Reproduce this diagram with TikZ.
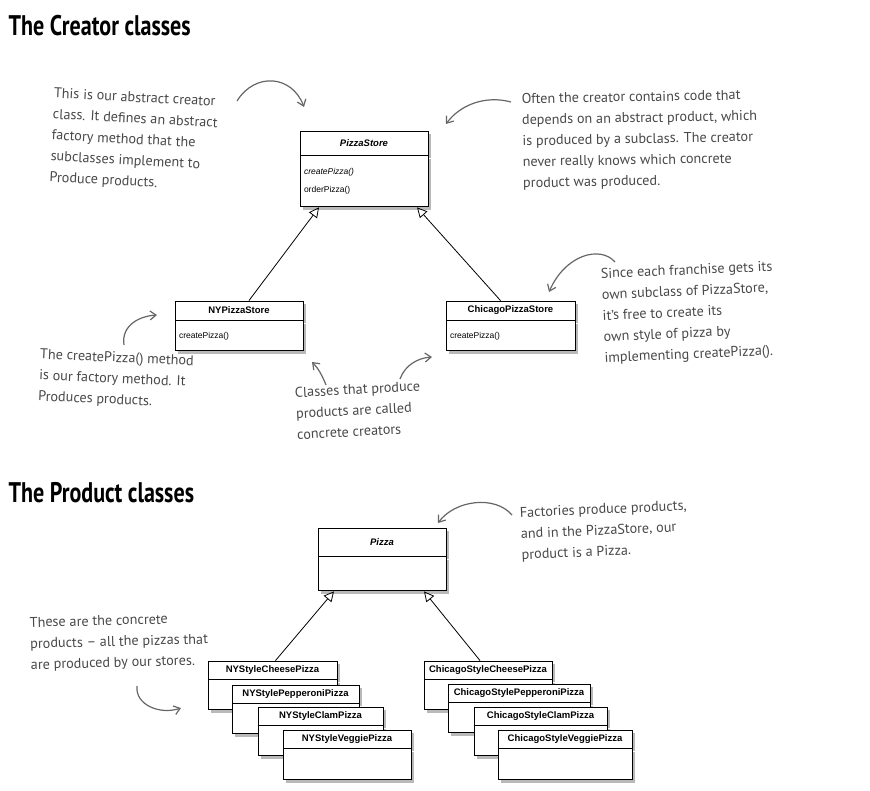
\documentclass[tikz,border=0pt]{standalone}
\usepackage{fontspec}
\setmainfont{Liberation Sans}
\newfontfamily\handfont[Ligatures=TeX]{PT Sans}
\usetikzlibrary{positioning,arrows.meta,shadows}

\definecolor{notegray}{RGB}{72,72,72}

\tikzset{
  clsshadow/.style={drop shadow={shadow xshift=3pt, shadow yshift=-3pt, opacity=0.55}},
  clshead/.style={draw, fill=white, line width=0.9pt, inner sep=0pt, clsshadow,
    font=\fontsize{9.5}{11}\selectfont\bfseries},
  clsbody/.style={draw, fill=white, line width=0.9pt, inner xsep=4pt, inner ysep=0pt,
    align=left, clsshadow, font=\fontsize{8.5}{18}\selectfont},
  annot/.style={anchor=north west, align=left, text=notegray,
    font=\handfont\fontsize{14.2}{21}\selectfont},
  heading/.style={anchor=north west, font=\handfont\bfseries\fontsize{21}{26}\selectfont},
  pointer/.style={draw=black!60, line width=1.2pt, -{Straight Barb[length=6pt,width=9pt]}},
  isa/.style={line width=0.8pt, -{Triangle[open,length=10pt,width=10pt]}}
}

\begin{document}
\begin{tikzpicture}[x=1pt,y=-1pt]
\useasboundingbox (0,0) rectangle (870,791);

% the creator classes
\node[heading] (creators) at (5,12) {\scalebox{1.05}[1.35]{The Creator classes}};

\node[clshead, minimum width=128pt, minimum height=24pt, font=\fontsize{9.5}{11}\selectfont\bfseries\itshape] (ps) at (364,143) {PizzaStore};
\node[clsbody, text width=120pt, minimum height=51pt, below=0pt of ps] (psm) {\textit{createPizza()}\\orderPizza()};

\node[clshead, minimum width=128pt, minimum height=19pt] (ny) at (239,310.5) {NYPizzaStore};
\node[clsbody, text width=120pt, minimum height=30pt, below=0pt of ny] (nym) {createPizza()};

\node[clshead, minimum width=129pt, minimum height=19pt] (chi) at (510.5,310.5) {ChicagoPizzaStore};
\node[clsbody, text width=121pt, minimum height=30pt, below=0pt of chi] (chim) {createPizza()};

\draw[isa] ([xshift=10pt]ny.north) -- ([xshift=-45pt]psm.south);
\draw[isa] ([xshift=-10pt]chi.north) -- ([xshift=53pt]psm.south);

\node[annot, rotate=-3] (n1) at (51,84) {This is our abstract creator\\class.  It defines an abstract\\factory method that the\\subclasses implement to\\Produce products.};
\node[annot, rotate=1] (n2) at (518,90) {Often the creator contains code that\\depends on an abstract product, which\\is produced by a subclass.  The creator\\never really knows which concrete\\product was produced.};
\node[annot, rotate=2.5] (n3) at (597,265) {Since each franchise gets its\\own subclass of PizzaStore,\\it's free to create its\\own style of pizza by\\implementing createPizza().};
\node[annot, rotate=-2.5] (n4) at (37,345) {The createPizza() method\\is our factory method.  It\\Produces products.};
\node[annot, rotate=3] (n5) at (291,384) {Classes that produce\\products are called\\concrete creators};

\coordinate (p1a) at (237,101);  \coordinate (p1b) at (304,107);
\coordinate (p2a) at (511,102);  \coordinate (p2b) at (446,124);
\coordinate (p3a) at (615,262);  \coordinate (p3b) at (549,292);
\coordinate (p4a) at (124,345);  \coordinate (p4b) at (157,315);
\coordinate (p5a) at (326,385);  \coordinate (p5b) at (312,362);
\coordinate (p6a) at (400,379);  \coordinate (p6b) at (432,357);
\draw[pointer] (p1a) .. controls (255,72) and (292,75) .. (p1b);
\draw[pointer] (p2a) .. controls (485,95) and (460,105) .. (p2b);
\draw[pointer] (p3a) .. controls (600,245) and (565,255) .. (p3b);
\draw[pointer] (p4a) .. controls (121,325) and (140,316) .. (p4b);
\draw[pointer] (p5a) .. controls (322,375) and (318,368) .. (p5b);
\draw[pointer] (p6a) .. controls (405,365) and (418,358) .. (p6b);

% the product classes
\node[heading] (products) at (5,479) {\scalebox{1.05}[1.35]{The Product classes}};

\node[clshead, minimum width=128pt, minimum height=28pt, font=\fontsize{9.5}{11}\selectfont\bfseries\itshape] (pz) at (382,542) {Pizza};
\node[clsbody, minimum width=128pt, minimum height=34pt, below=0pt of pz] (pzm) {};

\node[clshead, minimum width=129pt, minimum height=18pt] (nyc) at (272.5,670) {NYStyleCheesePizza};
\node[clsbody, minimum width=129pt, minimum height=30pt, below=0pt of nyc] (nycm) {};
\node[clshead, minimum width=127pt, minimum height=18pt] (nyp) at (295.5,694) {NYStylePepperoniPizza};
\node[clsbody, minimum width=127pt, minimum height=30pt, below=0pt of nyp] (nypm) {};
\node[clshead, minimum width=125pt, minimum height=18pt] (nycl) at (320.5,716) {NYStyleClamPizza};
\node[clsbody, minimum width=125pt, minimum height=30pt, below=0pt of nycl] (nyclm) {};
\node[clshead, minimum width=128pt, minimum height=18pt] (nyv) at (347,739) {NYStyleVeggiePizza};
\node[clsbody, minimum width=128pt, minimum height=31pt, below=0pt of nyv] (nyvm) {};

\node[clshead, minimum width=128pt, minimum height=18pt] (chc) at (488,670) {ChicagoStyleCheesePizza};
\node[clsbody, minimum width=128pt, minimum height=30pt, below=0pt of chc] (chcm) {};
\node[clshead, minimum width=142pt, minimum height=18pt] (chp) at (519,693) {ChicagoStylePepperoniPizza};
\node[clsbody, minimum width=142pt, minimum height=30pt, below=0pt of chp] (chpm) {};
\node[clshead, minimum width=133pt, minimum height=18pt] (chcl) at (540.5,716) {ChicagoStyleClamPizza};
\node[clsbody, minimum width=133pt, minimum height=30pt, below=0pt of chcl] (chclm) {};
\node[clshead, minimum width=134pt, minimum height=18pt] (chv) at (565,739) {ChicagoStyleVeggiePizza};
\node[clsbody, minimum width=134pt, minimum height=31pt, below=0pt of chv] (chvm) {};

\draw[isa] ([xshift=3pt]nyc.north) -- ([xshift=-48pt]pzm.south);
\draw[isa] ([xshift=-8pt]chc.north) -- ([xshift=42pt]pzm.south);

\node[annot, rotate=2.5] (n6) at (516,504) {Factories produce products,\\and in the PizzaStore, our\\product is a Pizza.};
\node[annot, rotate=1.5] (n7) at (26,614) {These are the concrete\\products – all the pizzas that\\are produced by our stores.};

\coordinate (p7a) at (512,515);  \coordinate (p7b) at (438,523);
\coordinate (p8a) at (137,686);  \coordinate (p8b) at (181,708);
\draw[pointer] (p7a) .. controls (495,495) and (455,500) .. (p7b);
\draw[pointer] (p8a) .. controls (135,705) and (160,715) .. (p8b);
\end{tikzpicture}
\end{document}
